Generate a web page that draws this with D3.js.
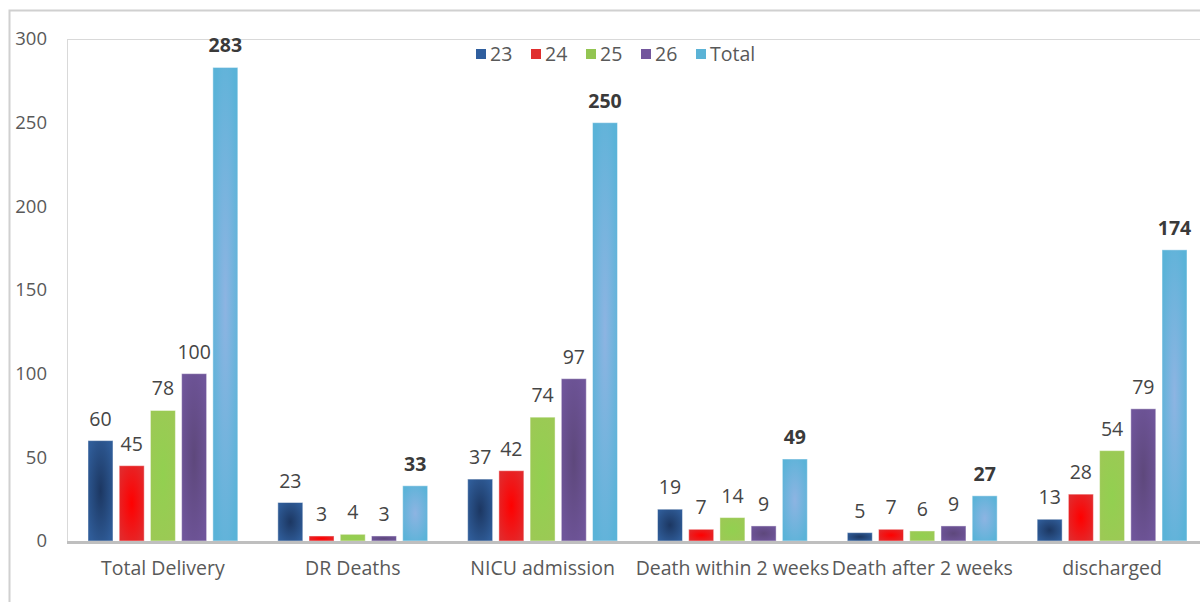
<!DOCTYPE html>
<html>
<head>
<meta charset="utf-8">
<script src="https://cdn.jsdelivr.net/npm/d3@7/dist/d3.min.js"></script>
<style>
  html, body { margin: 0; padding: 0; background: #fff; }
  svg { display: block; font-family: "Open Sans", sans-serif; }
</style>
</head>
<body>
<svg id="chart" width="1200" height="602"></svg>
<script>
// Outcome counts by gestational week, with the group total
const categories = ["Total Delivery", "DR Deaths", "NICU admission", "Death within 2 weeks", "Death after 2 weeks", "discharged"];
const seriesNames = ["23", "24", "25", "26", "Total"];
const week23 = [60, 23, 37, 19, 5, 13];
const week24 = [45, 3, 42, 7, 7, 28];
const week25 = [78, 4, 74, 14, 6, 54];
const week26 = [100, 3, 97, 9, 9, 79];
const totals = [283, 33, 250, 49, 27, 174];
const yTicks = [0, 50, 100, 150, 200, 250, 300];

const seriesValues = [week23, week24, week25, week26, totals];

// fill styles per series: [edge, center, legend swatch]
const palette = [
  { edge: "#2f5c98", center: "#1c3762", swatch: "#2f5e9e" },
  { edge: "#e3292b", center: "#ff0000", swatch: "#e02e2e" },
  { edge: "#9cc955", center: "#92d050", swatch: "#93c552" },
  { edge: "#6f559a", center: "#5e487c", swatch: "#73569d" },
  { edge: "#5ab3d8", center: "#8db4e2", swatch: "#5bb3d6" }
];

const svg = d3.select("#chart");
const W = 1200, H = 602;
const plot = { left: 68, top: 39, right: 1207, bottom: 541 };

// outer chart border
svg.append("rect")
  .attr("x", 9.5).attr("y", 10.5)
  .attr("width", W + 20).attr("height", H + 20)
  .attr("fill", "none").attr("stroke", "#d0d0d0").attr("stroke-width", 2);

const defs = svg.append("defs");
palette.forEach((p, i) => {
  const g = defs.append("radialGradient")
    .attr("id", "fill" + i)
    .attr("cx", "50%").attr("cy", "50%").attr("r", "60%");
  g.append("stop").attr("offset", "0%").attr("stop-color", p.center);
  g.append("stop").attr("offset", "100%").attr("stop-color", p.edge);
});

const x0 = d3.scaleBand().domain(categories).range([plot.left, plot.right]).padding(0);
const x1 = d3.scaleBand().domain(seriesNames).range([20, x0.bandwidth() - 20]).paddingInner(0.2).paddingOuter(0);
const y = d3.scaleLinear().domain([0, 300]).range([plot.bottom, plot.top]);

// plot frame: left and top edges
svg.append("line")
  .attr("x1", plot.left - 0.5).attr("x2", plot.left - 0.5)
  .attr("y1", plot.top).attr("y2", plot.bottom)
  .attr("stroke", "#d9d9d9").attr("stroke-width", 1);
svg.append("line")
  .attr("x1", plot.left - 0.5).attr("x2", W)
  .attr("y1", plot.top + 0.5).attr("y2", plot.top + 0.5)
  .attr("stroke", "#d9d9d9").attr("stroke-width", 1);

// y axis labels
const yAxis = d3.axisLeft(y).tickValues(yTicks).tickSize(0).tickPadding(0);
const yG = svg.append("g").attr("transform", `translate(${47},0)`).call(yAxis);
yG.select(".domain").remove();
yG.selectAll("text")
  .attr("fill", "#595959").attr("font-size", 18.5)
  .attr("font-family", "Open Sans, sans-serif");

// bars
const groups = svg.append("g").selectAll("g")
  .data(categories)
  .join("g")
  .attr("transform", d => `translate(${x0(d)},0)`);

groups.each(function (cat, ci) {
  const g = d3.select(this);
  const rows = seriesNames.map((s, si) => ({ s, si, v: seriesValues[si][ci] }));
  g.selectAll("rect")
    .data(rows)
    .join("rect")
    .attr("x", d => x1(d.s))
    .attr("y", d => y(d.v))
    .attr("width", x1.bandwidth())
    .attr("height", d => y(0) - y(d.v))
    .attr("fill", d => `url(#fill${d.si})`)
    .attr("stroke", "rgba(255,255,255,0.45)")
    .attr("stroke-width", 1);
  g.selectAll("text.val")
    .data(rows)
    .join("text")
    .attr("class", "val")
    .attr("x", d => x1(d.s) + x1.bandwidth() / 2)
    .attr("y", d => y(d.v) - 15)
    .attr("text-anchor", "middle")
    .attr("font-size", 19.5)
    .attr("font-weight", d => d.s === "Total" ? 700 : 400)
    .attr("fill", d => d.s === "Total" ? "#3a3a3a" : "#454545")
    .text(d => d.v);
});

// x axis baseline
svg.append("line")
  .attr("x1", plot.left - 1).attr("x2", W)
  .attr("y1", plot.bottom + 1.5).attr("y2", plot.bottom + 1.5)
  .attr("stroke", "#bfbfbf").attr("stroke-width", 3);

// category labels
const xAxis = d3.axisBottom(x0).tickSize(0).tickPadding(0);
const xG = svg.append("g").attr("transform", `translate(0,${plot.bottom + 20})`).call(xAxis);
xG.select(".domain").remove();
xG.selectAll("text")
  .attr("fill", "#595959").attr("font-size", 19.5)
  .attr("font-family", "Open Sans, sans-serif");

// legend
const legend = svg.append("g").attr("transform", "translate(476,54)");
const items = legend.selectAll("g").data(seriesNames).join("g")
  .attr("transform", (d, i) => `translate(${i * 55},0)`);
items.append("rect")
  .attr("x", 0).attr("y", -5).attr("width", 10).attr("height", 10)
  .attr("fill", (d, i) => palette[i].swatch);
items.append("text")
  .attr("x", 14).attr("y", 0).attr("dy", "0.35em")
  .attr("font-size", 19.5).attr("fill", "#595959")
  .text(d => d);
</script>
</body>
</html>
